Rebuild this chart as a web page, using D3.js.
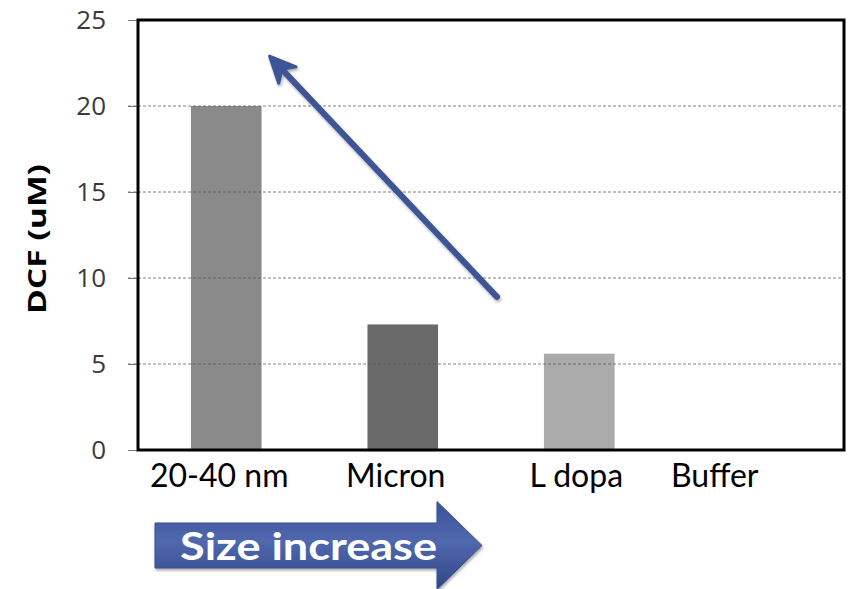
<!DOCTYPE html>
<html>
<head>
<meta charset="utf-8">
<script src="https://cdn.jsdelivr.net/npm/d3@7"></script>
<style>
  html, body { margin: 0; padding: 0; background: #fff; }
  svg { display: block; }
</style>
</head>
<body>
<svg id="chart" width="850" height="589"></svg>
<script>
// DCF readings per particle preparation
const categories = ["20-40 nm", "Micron", "L dopa", "Buffer"];
const values = [20, 7.3, 5.6, 0];
const yTicks = [0, 5, 10, 15, 20, 25];
const yTitle = "DCF (uM)";
const trendLabel = "Size increase";

// presentation
const barColors = ["#8a8a8a", "#6b6b6b", "#ababab", "#999"];
const labelShift = [-7, -7, -3, -41];
const plot = { left: 138, top: 20, right: 844, bottom: 450 };

const svg = d3.select("#chart");
const defs = svg.append("defs");

const x = d3.scaleBand()
  .domain(categories)
  .range([plot.left, plot.right])
  .paddingInner(0.6)
  .paddingOuter(0.3);

const y = d3.scaleLinear()
  .domain([0, 25])
  .range([plot.bottom, plot.top]);

// soft shadow used on the arrows
const blur = defs.append("filter").attr("id", "soft")
  .attr("x", "-20%").attr("y", "-20%").attr("width", "140%").attr("height", "140%");
blur.append("feGaussianBlur").attr("in", "SourceAlpha").attr("stdDeviation", 1.5);
blur.append("feOffset").attr("dx", 1).attr("dy", 2).attr("result", "ob");
blur.append("feComponentTransfer").append("feFuncA").attr("type", "linear").attr("slope", 0.35);
const m1 = blur.append("feMerge");
m1.append("feMergeNode");
m1.append("feMergeNode").attr("in", "SourceGraphic");

const barSoft = defs.append("filter").attr("id", "barsoft");
barSoft.append("feGaussianBlur").attr("stdDeviation", 0.6);

// bars
svg.append("g").selectAll("rect")
  .data(values)
  .join("rect")
  .attr("x", (d, i) => x(categories[i]))
  .attr("width", x.bandwidth())
  .attr("y", d => y(d))
  .attr("height", d => y(0) - y(d))
  .attr("fill", (d, i) => barColors[i])
  .attr("filter", "url(#barsoft)");

// dashed gridlines, drawn across the bars
svg.append("g").selectAll("line")
  .data(yTicks.filter(t => t > 0 && t < 25))
  .join("line")
  .attr("x1", plot.left - 10)
  .attr("x2", plot.right)
  .attr("y1", d => y(d))
  .attr("y2", d => y(d))
  .attr("stroke", "#555")
  .attr("stroke-opacity", 0.75)
  .attr("stroke-width", 1)
  .attr("stroke-dasharray", "3,2");

// y axis ticks and labels
const yAxis = d3.axisLeft(y)
  .tickValues(yTicks)
  .tickSize(10)
  .tickPadding(22)
  .tickFormat(d3.format("d"));
const gy = svg.append("g")
  .attr("transform", `translate(${plot.left},0)`)
  .call(yAxis);
gy.select(".domain").remove();
gy.selectAll(".tick line").attr("stroke", "#777").attr("stroke-width", 1);
gy.selectAll(".tick text")
  .attr("fill", "#3a3a3a")
  .style("font-family", "'Open Sans', 'DejaVu Sans', sans-serif")
  .style("font-size", "26px");

// plot frame
svg.append("rect")
  .attr("x", plot.left)
  .attr("y", plot.top)
  .attr("width", plot.right - plot.left)
  .attr("height", plot.bottom - plot.top)
  .attr("fill", "none")
  .attr("stroke", "#000")
  .attr("stroke-width", 3);

// category labels
const xAxis = d3.axisBottom(x).tickSize(0).tickPadding(0);
const gx = svg.append("g")
  .attr("transform", `translate(0,${plot.bottom})`)
  .call(xAxis);
gx.select(".domain").remove();
gx.selectAll(".tick text")
  .attr("fill", "#000")
  .attr("dy", null)
  .attr("y", 37)
  .attr("x", (d, i) => labelShift[i])
  .style("font-family", "Lato, 'Open Sans', sans-serif")
  .style("font-size", "32px");

// y title
svg.append("text")
  .attr("transform", `translate(46,${(plot.top + plot.bottom) / 2 + 4}) rotate(-90)`)
  .attr("text-anchor", "middle")
  .attr("textLength", 150)
  .attr("lengthAdjust", "spacingAndGlyphs")
  .style("font-family", "'Open Sans', 'DejaVu Sans', sans-serif")
  .style("font-weight", "bold")
  .style("font-size", "25px")
  .attr("fill", "#000")
  .text(yTitle);

// trend arrow: from just left of the L dopa bar up towards the 20-40 nm bar
const tail = [x(categories[2]) - 47, y(8.9)];
const tip = [x(categories[0]) + x.bandwidth() + 8, y(22.9)];
const ang = Math.atan2(tip[1] - tail[1], tip[0] - tail[0]);
const headLen = 26, headW = 12;
const base = [tip[0] - headLen * 0.7 * Math.cos(ang), tip[1] - headLen * 0.7 * Math.sin(ang)];
const arrowColor = "#3c5596";
const ga = svg.append("g").attr("filter", "url(#soft)");
ga.append("line")
  .attr("x1", tail[0]).attr("y1", tail[1])
  .attr("x2", base[0]).attr("y2", base[1])
  .attr("stroke", arrowColor)
  .attr("stroke-width", 6)
  .attr("stroke-linecap", "round");
const back = [tip[0] - headLen * Math.cos(ang), tip[1] - headLen * Math.sin(ang)];
const px = -Math.sin(ang), py = Math.cos(ang);
ga.append("path")
  .attr("d", d3.line()([
    tip,
    [back[0] + px * headW, back[1] + py * headW],
    base,
    [back[0] - px * headW, back[1] - py * headW]
  ]) + "Z")
  .attr("fill", arrowColor)
  .attr("stroke", arrowColor)
  .attr("stroke-width", 3)
  .attr("stroke-linejoin", "round");

// "Size increase" block arrow
const grad = defs.append("linearGradient").attr("id", "bluegrad")
  .attr("x1", 0).attr("y1", 0).attr("x2", 0).attr("y2", 1);
grad.append("stop").attr("offset", "0%").attr("stop-color", "#3a519a");
grad.append("stop").attr("offset", "45%").attr("stop-color", "#5068ae");
grad.append("stop").attr("offset", "100%").attr("stop-color", "#2f4686");

const bx0 = 155, bx1 = 437, tipX = 482;
const bTop = 523, bBot = 568, cy = (bTop + bBot) / 2, hh = 44;
svg.append("path")
  .attr("d", d3.line()([
    [bx0, bTop], [bx1, bTop], [bx1, cy - hh], [tipX, cy],
    [bx1, cy + hh], [bx1, bBot], [bx0, bBot]
  ]) + "Z")
  .attr("fill", "url(#bluegrad)")
  .attr("stroke", "#3a5090")
  .attr("stroke-width", 1)
  .attr("filter", "url(#soft)");

svg.append("text")
  .attr("x", 180)
  .attr("y", 560)
  .attr("textLength", 257)
  .attr("lengthAdjust", "spacingAndGlyphs")
  .attr("fill", "#fff")
  .style("font-family", "Lato, 'Open Sans', sans-serif")
  .style("font-weight", "bold")
  .style("font-size", "38px")
  .text(trendLabel);
</script>
</body>
</html>
